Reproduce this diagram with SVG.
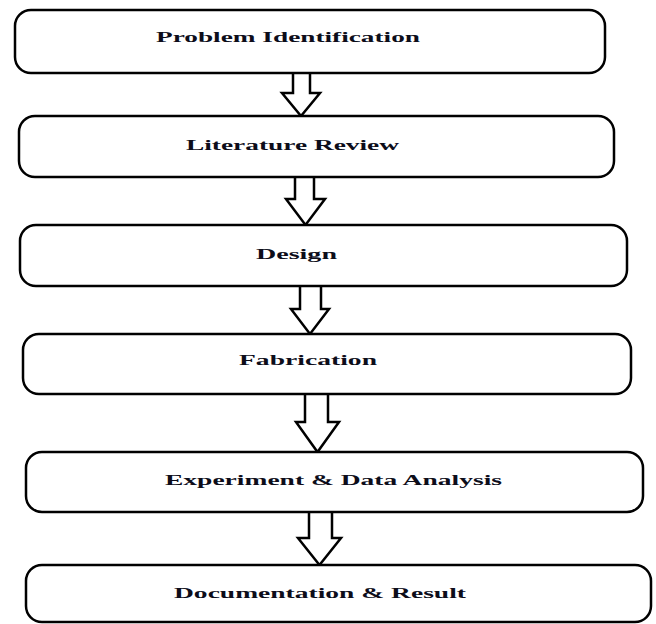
<svg xmlns="http://www.w3.org/2000/svg" width="656" height="624" viewBox="0 0 656 624">
<style>
.box{fill:#fff;stroke:#000;stroke-width:2.5}
.lbl{font-family:"Liberation Serif","Times New Roman",serif;font-weight:bold;font-size:15.5px;fill:#0d0d1a}
.arr{fill:#fff;stroke:#000;stroke-width:2.5;stroke-linejoin:miter}
</style>
<rect width="656" height="624" fill="#fff"/>
<g id="connectors">
<path class="arr" d="M293,73 V93 H282 L301,116 L320,93 H310 V73"/>
<path class="arr" d="M295,177 V199 H286 L305.5,225 L325,199 H314 V177"/>
<path class="arr" d="M300,286 V309 H291 L310,334 L329,309 H321 V286"/>
<path class="arr" d="M305,394 V422 H296 L317.5,452 L339,422 H328 V394"/>
<path class="arr" d="M309,512 V538 H298 L319.5,565 L341,538 H332 V512"/>
</g>
<g id="n1"><rect class="box" x="15" y="10" width="590" height="63" rx="16"/><text class="lbl" x="156" y="42" textLength="264" lengthAdjust="spacingAndGlyphs">Problem Identification</text></g>
<g id="n2"><rect class="box" x="19" y="116" width="595" height="61" rx="16"/><text class="lbl" x="186" y="150" textLength="213" lengthAdjust="spacingAndGlyphs">Literature Review</text></g>
<g id="n3"><rect class="box" x="20" y="225" width="607" height="61" rx="16"/><text class="lbl" x="256" y="259" textLength="81" lengthAdjust="spacingAndGlyphs">Design</text></g>
<g id="n4"><rect class="box" x="23" y="334" width="608" height="60" rx="16"/><text class="lbl" x="239" y="365" textLength="138" lengthAdjust="spacingAndGlyphs">Fabrication</text></g>
<g id="n5"><rect class="box" x="26" y="452" width="617" height="60" rx="16"/><text class="lbl" x="165" y="485" textLength="337" lengthAdjust="spacingAndGlyphs">Experiment &amp; Data Analysis</text></g>
<g id="n6"><rect class="box" x="26" y="565" width="625" height="57" rx="16"/><text class="lbl" x="174" y="598" textLength="292" lengthAdjust="spacingAndGlyphs">Documentation &amp; Result</text></g>
</svg>
